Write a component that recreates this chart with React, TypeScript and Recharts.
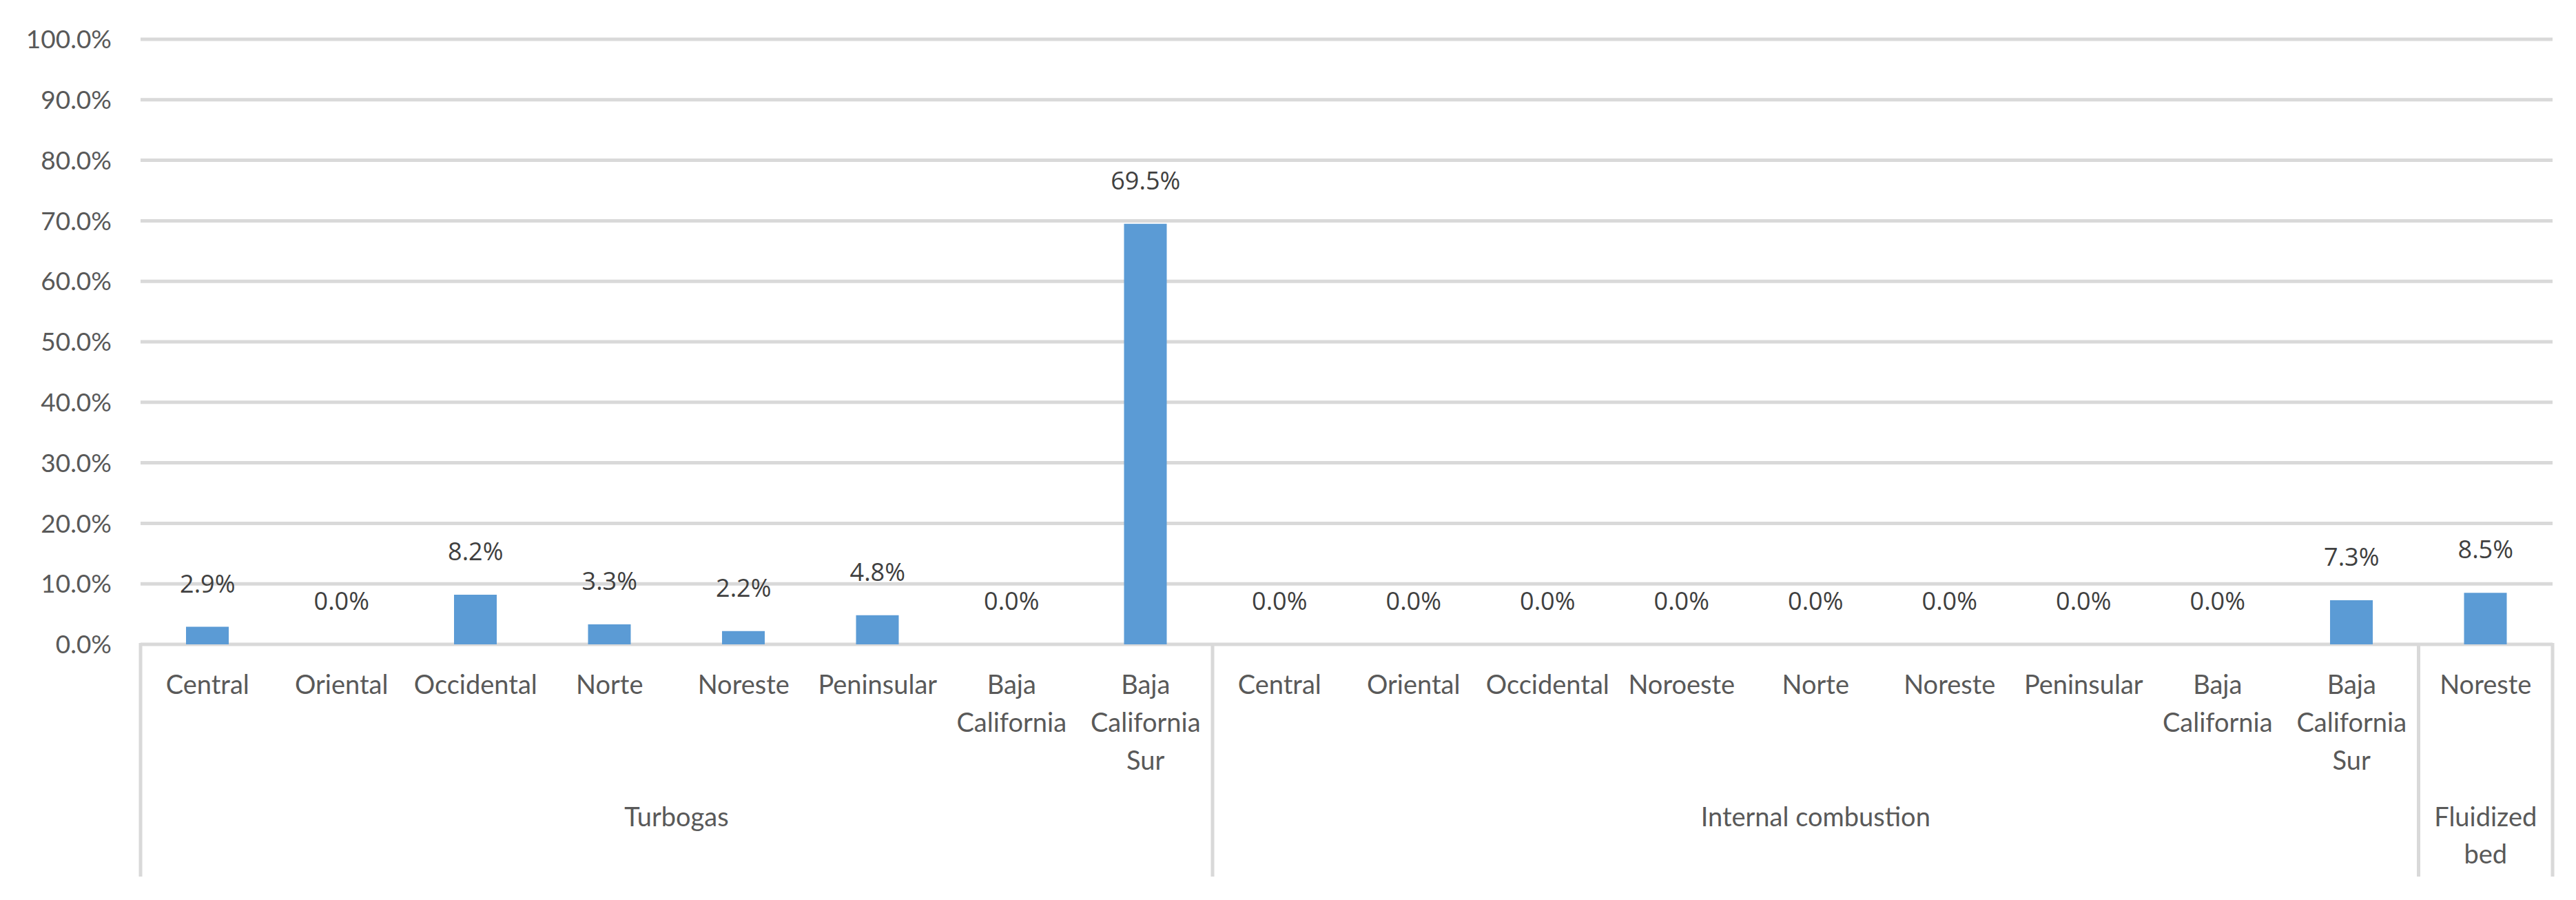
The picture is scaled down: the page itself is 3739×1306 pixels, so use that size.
import React from "react";
import { ComposedChart, Bar, Line, XAxis, YAxis, CartesianGrid, LabelList } from "recharts";

document.body.style.margin = "0";

const groups = ["Turbogas", "Internal combustion", "Fluidized bed"];

const turbogasRegions = [
  "Central",
  "Oriental",
  "Occidental",
  "Norte",
  "Noreste",
  "Peninsular",
  "Baja California",
  "Baja California Sur",
];
const turbogasValues = [2.9, 0.0, 8.2, 3.3, 2.2, 4.8, 0.0, 69.5];

const combustionRegions = [
  "Central",
  "Oriental",
  "Occidental",
  "Noroeste",
  "Norte",
  "Noreste",
  "Peninsular",
  "Baja California",
  "Baja California Sur",
];
const combustionValues = [0.0, 0.0, 0.0, 0.0, 0.0, 0.0, 0.0, 0.0, 7.3];

const fluidizedRegions = ["Noreste"];
const fluidizedValues = [8.5];

const yTicks = [0, 10, 20, 30, 40, 50, 60, 70, 80, 90, 100];

const groupRegions = [turbogasRegions, combustionRegions, fluidizedRegions];
const groupValues = [turbogasValues, combustionValues, fluidizedValues];

const data = groupRegions.flatMap((regions, g) =>
  regions.map((region, i) => ({
    key: `${g}-${i}`,
    region,
    group: g,
    first: i === 0,
    last: i === regions.length - 1,
    value: groupValues[g][i],
  }))
);

// chart layout
const W = 3739;
const H = 1306;
const MARGIN = { top: 57, right: 34, left: 0, bottom: 0 };
const Y_AXIS_W = 204;
const BAND = (W - MARGIN.left - MARGIN.right - Y_AXIS_W) / data.length;

const AXIS_FONT = "Lato, 'Open Sans', sans-serif";
const GRID = "#d9d9d9";

function wrap(text: string, maxChars: number) {
  const words = text.split(" ");
  const lines: string[] = [];
  let cur = "";
  words.forEach((w) => {
    if (!cur) cur = w;
    else if ((cur + " " + w).length > maxChars) {
      lines.push(cur);
      cur = w;
    } else cur = cur + " " + w;
  });
  if (cur) lines.push(cur);
  return lines;
}

const Label = ({ x, y, lines, gap }: { x: number; y: number; lines: string[]; gap: number }) => (
  <text x={x} y={y} textAnchor="middle" fill="#595959" fontSize={38} fontFamily={AXIS_FONT}>
    {lines.map((l, i) => (
      <tspan key={i} x={x} dy={i === 0 ? 0 : gap}>
        {l}
      </tspan>
    ))}
  </text>
);

const CategoryTick = (props: any) => {
  const { x, y, payload } = props;
  const row = data.find((d) => d.key === payload.value);
  if (!row) return null;
  const size = groupRegions[row.group].length;
  const left = x - BAND / 2;
  return (
    <g>
      <Label x={x} y={y + 72} lines={wrap(row.region, 11)} gap={55} />
      {row.first && (
        <>
          <line x1={left} x2={left} y1={y - 2} y2={y + 337} stroke={GRID} strokeWidth={5} />
          <Label
            x={left + (size * BAND) / 2}
            y={y + 264}
            lines={wrap(groups[row.group], size * 11)}
            gap={54}
          />
        </>
      )}
      {row.key === data[data.length - 1].key && (
        <line x1={x + BAND / 2} x2={x + BAND / 2} y1={y - 2} y2={y + 337} stroke={GRID} strokeWidth={5} />
      )}
    </g>
  );
};

export default function App() {
  return (
    <div style={{ width: W, height: H, background: "#fff" }}>
      <ComposedChart width={W} height={H} data={data} margin={MARGIN}>
        <CartesianGrid vertical={false} stroke={GRID} strokeWidth={5} />
        <XAxis
          dataKey="key"
          interval={0}
          height={H - 935}
          axisLine={false}
          tickLine={false}
          tickSize={0}
          tickMargin={0}
          tick={<CategoryTick />}
        />
        <YAxis
          domain={[0, 100]}
          ticks={yTicks}
          interval={0}
          width={Y_AXIS_W}
          axisLine={false}
          tickLine={false}
          tickSize={0}
          tickMargin={42}
          tickFormatter={(v: number) => `${v.toFixed(1)}%`}
          tick={{ fill: "#595959", fontSize: 37, fontFamily: AXIS_FONT }}
        />
        <Bar dataKey="value" fill="#5b9bd5" barSize={62} isAnimationActive={false} />
        <Line
          dataKey="value"
          stroke="none"
          dot={false}
          activeDot={false}
          legendType="none"
          isAnimationActive={false}
        >
          <LabelList
            dataKey="value"
            position="top"
            offset={50}
            formatter={(v: any) => `${Number(v).toFixed(1)}%`}
            fill="#404040"
            fontSize={36}
            fontFamily="'Open Sans', sans-serif"
          />
        </Line>
      </ComposedChart>
    </div>
  );
}
